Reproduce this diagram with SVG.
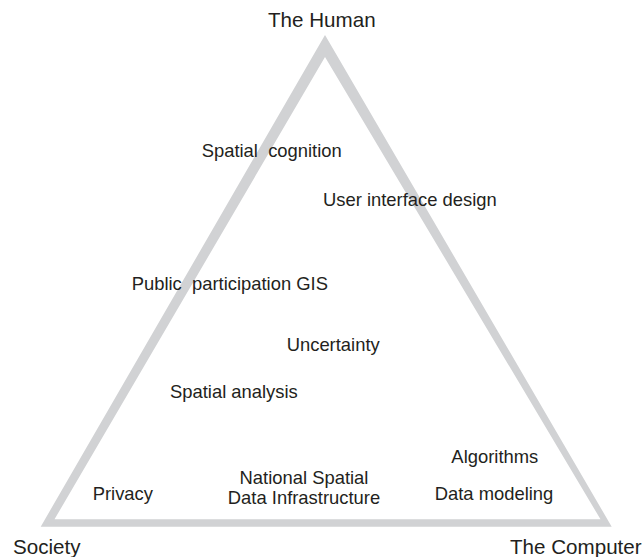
<svg xmlns="http://www.w3.org/2000/svg" width="643" height="557" viewBox="0 0 643 557">
  <style>
    .corner { font-family: "Liberation Sans", Arial, sans-serif; font-size: 20.6px; fill: #231f20; }
    .topic { font-family: "Liberation Sans", Arial, sans-serif; font-size: 18.4px; fill: #231f20; }
    .frame { fill: #d1d2d4; fill-rule: evenodd; stroke: none; }
  </style>
  <rect width="643" height="557" fill="#ffffff"/>

  <!-- triangular frame: outer outline minus inner outline -->
  <g id="frame">
    <path class="frame" d="M325,35 L40.7,526.7 L611.7,526.7 Z M325,57 L600.5,519.3 L54.5,519.3 Z"/>
  </g>

  <!-- corner labels -->
  <g id="the-human"><text class="corner" x="268" y="27">The Human</text></g>
  <g id="society"><text class="corner" x="13" y="554">Society</text></g>
  <g id="the-computer"><text class="corner" x="510" y="554">The Computer</text></g>

  <!-- topics placed inside the triangle -->
  <g id="spatial-cognition"><text class="topic" x="201.7" y="156.7" xml:space="preserve">Spatial  cognition</text></g>
  <g id="user-interface-design"><text class="topic" x="323" y="206">User interface design</text></g>
  <g id="public-participation-gis"><text class="topic" x="131.7" y="290" xml:space="preserve">Public  participation GIS</text></g>
  <g id="uncertainty"><text class="topic" x="286.7" y="350.7">Uncertainty</text></g>
  <g id="spatial-analysis"><text class="topic" x="170" y="398">Spatial analysis</text></g>
  <g id="privacy"><text class="topic" x="92.7" y="500">Privacy</text></g>
  <g id="nsdi">
    <text class="topic" x="304" y="484" text-anchor="middle">National Spatial</text>
    <text class="topic" x="304" y="504" text-anchor="middle">Data Infrastructure</text>
  </g>
  <g id="algorithms"><text class="topic" x="494.8" y="463.3" text-anchor="middle">Algorithms</text></g>
  <g id="data-modeling"><text class="topic" x="494" y="500" text-anchor="middle">Data modeling</text></g>
</svg>
